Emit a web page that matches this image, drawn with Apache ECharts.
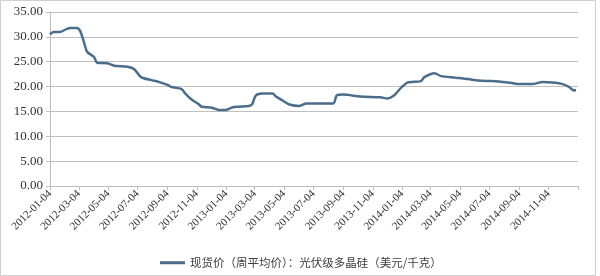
<!DOCTYPE html>
<html>
<head>
<meta charset="utf-8">
<script src="https://cdn.jsdelivr.net/npm/echarts@6/dist/echarts.min.js"></script>
<style>
  html, body { margin: 0; padding: 0; background: #ffffff; }
  #chart { width: 600px; height: 276px; }
</style>
</head>
<body>
<div id="chart"></div>
<script>
// Weekly spot price sample points (USD/kg)
const dates = [
  '2012-01-04','2012-01-11','2012-01-25','2012-02-08','2012-02-15','2012-02-29',
  '2012-03-07','2012-03-14','2012-03-21','2012-04-04','2012-04-11','2012-05-02',
  '2012-05-16','2012-06-13','2012-06-27','2012-07-11','2012-08-01','2012-08-15',
  '2012-09-05','2012-09-12','2012-10-03','2012-10-10','2012-10-24','2012-11-07',
  '2012-11-14','2012-12-05','2012-12-19','2013-01-02','2013-01-16','2013-01-30',
  '2013-02-20','2013-02-27','2013-03-06','2013-03-20','2013-04-10','2013-04-17',
  '2013-05-01','2013-05-15','2013-06-05','2013-06-19','2013-08-14','2013-08-21',
  '2013-09-04','2013-10-09','2013-11-20','2013-12-04','2013-12-18','2014-01-01',
  '2014-01-15','2014-02-12','2014-02-19','2014-03-12','2014-03-26','2014-04-23',
  '2014-05-21','2014-06-11','2014-07-09','2014-07-23','2014-08-20','2014-09-03',
  '2014-10-01','2014-10-22','2014-11-12','2014-12-03','2014-12-17','2014-12-24',
  '2014-12-31'
];
const prices = [
  30.5, 31.0, 31.0, 31.6, 31.8, 31.8,
  31.1, 29.1, 27.0, 26.0, 24.8, 24.7,
  24.2, 24.0, 23.5, 21.9, 21.3, 21.0,
  20.3, 19.9, 19.5, 18.7, 17.4, 16.5,
  15.95, 15.75, 15.3, 15.3, 15.8, 15.95,
  16.1, 16.5, 18.2, 18.6, 18.6, 18.0,
  17.2, 16.4, 16.1, 16.6, 16.6, 18.2,
  18.4, 18.0, 17.85, 17.6, 18.2, 19.7,
  20.8, 21.1, 21.9, 22.7, 22.1, 21.8,
  21.5, 21.2, 21.1, 21.0, 20.7, 20.5,
  20.5, 20.9, 20.8, 20.5, 19.9, 19.3,
  19.25
];
const tickLabels = [
  '2012-01-04','2012-03-04','2012-05-04','2012-07-04','2012-09-04','2012-11-04',
  '2013-01-04','2013-03-04','2013-05-04','2013-07-04','2013-09-04','2013-11-04',
  '2014-01-04','2014-03-04','2014-05-04','2014-07-04','2014-09-04','2014-11-04'
];
const axisEnd = '2015-01-04';
const seriesName = '现货价（周平均价）：光伏级多晶硅（美元/千克）';

const t = s => Date.parse(s + 'T00:00:00Z');
const labelTimes = tickLabels.map(t);
const tickTimes = labelTimes.concat([t(axisEnd)]);

const chart = echarts.init(document.getElementById('chart'), null, { renderer: 'canvas' });
chart.setOption({
  animation: false,
  backgroundColor: '#ffffff',
  grid: { left: 50, right: 22, top: 12, bottom: 90, containLabel: false },
  graphic: [{
    type: 'rect',
    shape: { x: 0.5, y: 0.5, width: 595, height: 275 },
    style: { fill: 'none', stroke: '#cfcfcf', lineWidth: 1 },
    silent: true, z: -1
  }],
  legend: {
    left: 155, top: 252,
    itemWidth: 25, itemHeight: 3, itemGap: 10,
    icon: 'rect',
    textStyle: { fontFamily: 'Noto Sans CJK SC', fontSize: 11.5, color: '#404040' },
    data: [seriesName]
  },
  xAxis: {
    type: 'value',
    min: t(tickLabels[0]),
    max: t(axisEnd),
    axisLine: { show: true, lineStyle: { color: '#bfbfbf', width: 1 } },
    axisTick: { show: true, length: 4, customValues: tickTimes, lineStyle: { color: '#bfbfbf' } },
    splitLine: { show: false },
    axisLabel: {
      customValues: labelTimes,
      rotate: 45,
      margin: 6,
      fontFamily: 'Liberation Serif',
      fontSize: 11,
      color: '#333333',
      formatter: v => {
        const i = labelTimes.indexOf(v);
        return i >= 0 ? tickLabels[i] : '';
      }
    }
  },
  yAxis: {
    type: 'value',
    min: 0, max: 35, interval: 5,
    axisLine: { show: true, lineStyle: { color: '#bfbfbf', width: 1 } },
    axisTick: { show: true, length: 4, lineStyle: { color: '#bfbfbf' } },
    splitLine: { show: true, lineStyle: { color: '#bfbfbf', width: 1 } },
    axisLabel: {
      margin: 7,
      fontFamily: 'Liberation Serif',
      fontSize: 13,
      color: '#333333',
      formatter: v => v.toFixed(2)
    }
  },
  series: [{
    name: seriesName,
    type: 'line',
    showSymbol: false,
    smooth: 0.25,
    data: dates.map((d, i) => [t(d), prices[i]]),
    itemStyle: { color: '#4b6d8c' },
    lineStyle: { color: '#4b6d8c', width: 2.5 }
  }]
});
</script>
</body>
</html>
